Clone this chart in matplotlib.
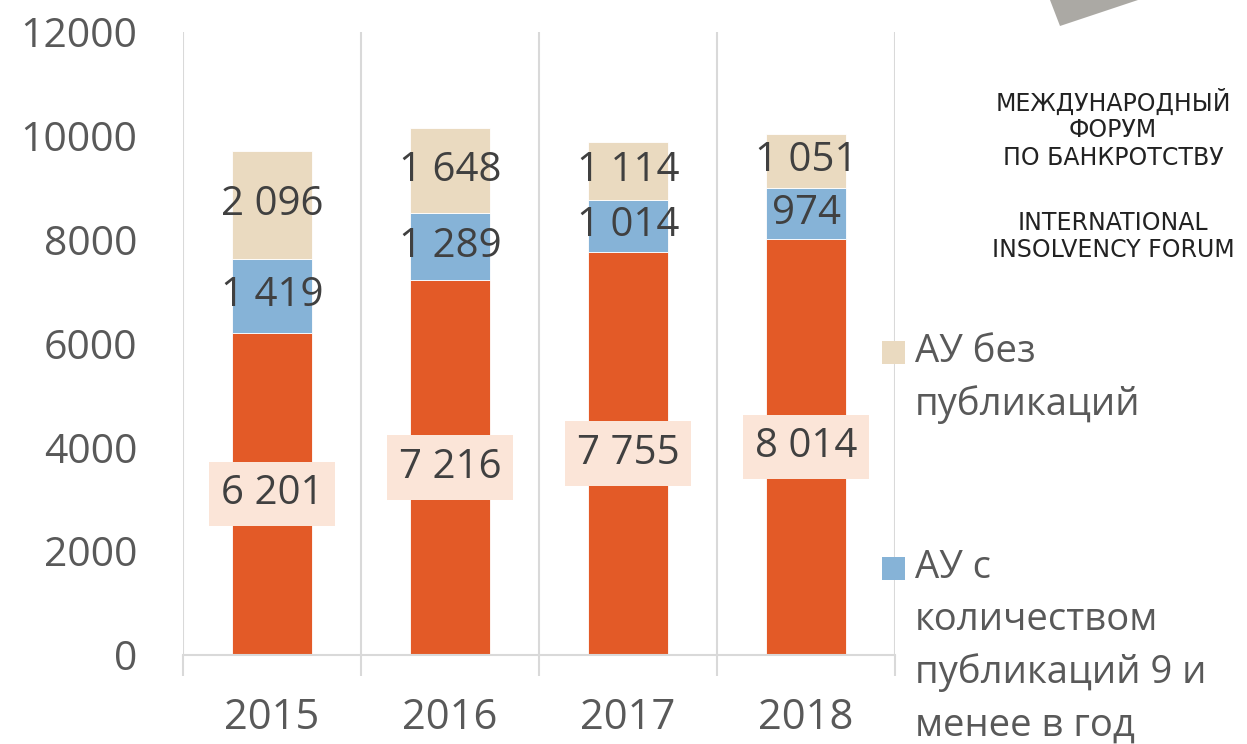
import numpy as np
import matplotlib.pyplot as plt
from matplotlib.patches import Polygon, Rectangle

years = ["2015", "2016", "2017", "2018"]
au_main = [6201, 7216, 7755, 8014]
au_few = [1419, 1289, 1014, 974]
au_none = [2096, 1648, 1114, 1051]

legend_labels = [
    ["АУ без", "публикаций"],
    ["АУ с", "количеством", "публикаций 9 и", "менее в год"],
]
logo_lines = ["МЕЖДУНАРОДНЫЙ", "ФОРУМ", "ПО БАНКРОТСТВУ", "", "INTERNATIONAL", "INSOLVENCY FORUM"]

C_MAIN = "#e35a27"
C_FEW = "#86b3d7"
C_NONE = "#eadac0"
C_BOX = "#fbe5d8"
GRID = "#d9d9d9"
TXT = "#595959"
LBL = "#404040"

plt.rcParams["font.family"] = ["Open Sans", "DejaVu Sans"]

W, H = 1247, 744
fig = plt.figure(figsize=(W / 100, H / 100), dpi=100)
ax = fig.add_axes([183 / W, (H - 655) / H, (895 - 183) / W, (655 - 32) / H])

x = np.arange(len(years))
main = np.array(au_main)
few = np.array(au_few)
none = np.array(au_none)
bw = 0.45
ax.bar(x, main, bw, color=C_MAIN, edgecolor="white", linewidth=0.6, zorder=2)
ax.bar(x, few, bw, bottom=main, color=C_FEW, edgecolor="white", linewidth=0.6, zorder=2)
ax.bar(x, none, bw, bottom=main + few, color=C_NONE, edgecolor="white", linewidth=0.6, zorder=2)


def fmt(v):
    return f"{v:,}".replace(",", " ")


fs = 29
for i in range(len(years)):
    ax.text(x[i], main[i] / 2, fmt(main[i]), ha="center", va="center", fontsize=fs, color=LBL,
            zorder=4, bbox=dict(boxstyle="square,pad=0.3", facecolor=C_BOX, edgecolor="none"))
    ax.text(x[i], main[i] + few[i] / 2, fmt(few[i]), ha="center", va="center", fontsize=fs,
            color=LBL, zorder=4)
    ax.text(x[i], main[i] + few[i] + none[i] / 2, fmt(none[i]), ha="center", va="center",
            fontsize=fs, color=LBL, zorder=4)

ax.set_xlim(-0.5, len(years) - 0.5)
ax.set_ylim(0, 12000)
ax.set_yticks(np.arange(0, 12001, 2000))
ax.set_yticklabels([str(v) for v in range(0, 12001, 2000)], fontsize=29.5, color=TXT)
ax.tick_params(axis="y", length=0, pad=33)
ax.set_xticks(x)
ax.set_xticklabels(years, fontsize=30, color=TXT)
ax.set_xticks(np.arange(-0.5, len(years)), minor=True)
ax.tick_params(axis="x", which="major", length=0, pad=30)
ax.tick_params(axis="x", which="minor", length=15, width=1.5, color=GRID)
ax.grid(axis="x", which="minor", color=GRID, linewidth=1.5, zorder=0)
for s in ["top", "right", "left"]:
    ax.spines[s].set_visible(False)
ax.spines["bottom"].set_color(GRID)
ax.spines["bottom"].set_linewidth(1.5)

# legend on the right
leg_colors = [C_NONE, C_FEW]
leg_top = [352, 568]
step = 52.5
for col, y0, lines in zip(leg_colors, leg_top, legend_labels):
    fig.patches.append(Rectangle((882 / W, (H - y0 - 12) / H), 23 / W, 23 / H,
                                 transform=fig.transFigure, facecolor=col, edgecolor="none"))
    for k, line in enumerate(lines):
        fig.text(915 / W, (H - y0 - k * step) / H, line, fontsize=27.5, color=TXT,
                 ha="left", va="center")

# logo
fig.patches.append(Polygon([(1050 / W, 1.0), (1060 / W, (H - 26) / H), (1138 / W, 1.0)],
                           closed=True, transform=fig.transFigure, facecolor="#aba9a4",
                           edgecolor="none"))
logo_y = [102, 130, 158, 0, 223, 250]
for line, ly in zip(logo_lines, logo_y):
    if line:
        fig.text(1113 / W, (H - ly) / H, line, fontsize=17, color="#222222", ha="center",
                 va="center", family=["DejaVu Sans"])

fig.savefig("out.png", dpi=100)
